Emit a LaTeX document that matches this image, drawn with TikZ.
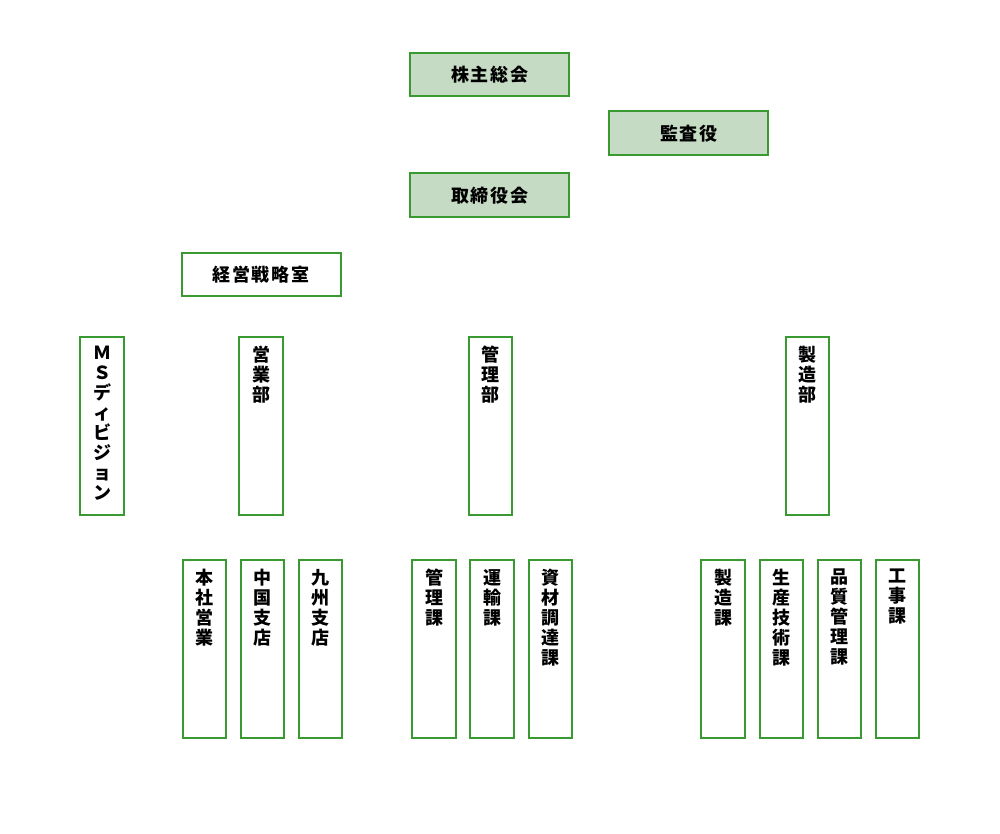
\documentclass[tikz,border=0pt]{standalone}
\usepackage{fontspec}
\setmainfont{Noto Sans CJK JP}
\newfontfamily\jph{Noto Sans CJK JP}[LetterSpace=10]
\definecolor{boxline}{RGB}{57,154,50}
\definecolor{boxfill}{RGB}{197,219,196}
\tikzset{
  obox/.style={draw=boxline, line width=2pt, inner sep=0pt},
  hbox/.style={obox, minimum width=159pt, minimum height=43.7pt, font=\jph\bfseries\fontsize{18}{20}\selectfont},
  gbox/.style={hbox, fill=boxfill},
  vbox/.style={obox, fill=white, minimum width=43.7pt, minimum height=178.5pt},
  vtext/.style={anchor=north, inner sep=0pt, align=center, font=\bfseries\fontsize{18}{20}\selectfont},
}
\begin{document}
\begin{tikzpicture}[x=1pt,y=-1pt]
\useasboundingbox (0,0) rectangle (1000,833);
\node[gbox] (kabu) at (489.8,74.5) {株主総会};
\node[gbox] (kansa) at (688.8,133.3) {監査役};
\node[gbox] (tori) at (489.8,195.3) {取締役会};
\node[hbox, fill=white] (keiei) at (261,274.5) {経営戦略室};
% departments
\foreach \n/\x/\t in {ms/102.2/Ｍ\\Ｓ\\デ\\ィ\\ビ\\ジ\\ョ\\ン, eigyo/261.2/営\\業\\部, kanri/490.5/管\\理\\部, seizo/807.5/製\\造\\部}{
  \node[vbox] (\n) at (\x,425.9) {};
  \node[vtext] (\n-t) at ([yshift=-10.5pt]\n.north) {\t};
}
% sections
\foreach \n/\x/\t in {honsha/204.5/本\\社\\営\\業, chugoku/262.5/中\\国\\支\\店, kyushu/320.5/九\\州\\支\\店,
  kanrika/434.3/管\\理\\課, unyu/492.3/運\\輸\\課, shizai/550.5/資\\材\\調\\達\\課,
  seizoka/723.2/製\\造\\課, seisan/781.5/生\\産\\技\\術\\課, hinshitsu/839.5/品\\質\\管\\理\\課, koji/897.5/工\\事\\課}{
  \node[vbox] (\n) at (\x,648.8) {};
  \node[vtext] (\n-t) at ([yshift=-10.5pt]\n.north) {\t};
}
\end{tikzpicture}
\end{document}
